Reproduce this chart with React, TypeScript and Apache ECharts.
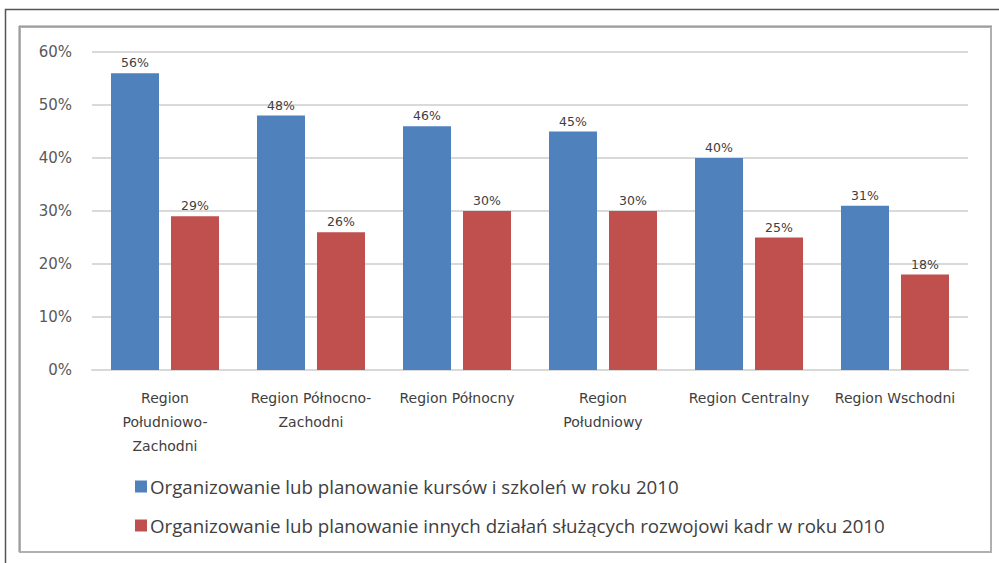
import React, { useEffect, useRef } from "react";
import * as echarts from "echarts";

// Regions (category axis)
const regions: string[] = [
  "Region\nPołudniowo-\nZachodni",
  "Region Północno-\nZachodni",
  "Region Północny",
  "Region\nPołudniowy",
  "Region Centralny",
  "Region Wschodni",
];

// Series names
const seriesNames: string[] = [
  "Organizowanie lub planowanie kursów i szkoleń w roku 2010",
  "Organizowanie lub planowanie innych działań służących rozwojowi kadr w roku 2010",
];

// Shares of companies, in percent
const coursesValues: number[] = [56, 48, 46, 45, 40, 31];
const otherActivitiesValues: number[] = [29, 26, 30, 30, 25, 18];

// Y axis range and step
const yMin = 0;
const yMax = 60;
const yStep = 10;

const AXIS_FONT = "'DejaVu Sans', Verdana, sans-serif";
const LEGEND_FONT = "'Open Sans', 'Liberation Sans', sans-serif";

export default function App() {
  const ref = useRef<HTMLDivElement>(null);

  useEffect(() => {
    document.body.style.margin = "0";
    if (!ref.current) return;
    const chart = echarts.init(ref.current, undefined, { renderer: "svg" });

    const labelStyle = {
      show: true,
      position: "top" as const,
      distance: 4,
      color: "#404040",
      fontSize: 12.5,
      fontFamily: AXIS_FONT,
      formatter: (p: any) => `${p.value}%`,
    };

    chart.setOption({
      animation: false,
      backgroundColor: "#ffffff",
      graphic: [
        // outer frame (top and left edges)
        {
          type: "polyline",
          shape: { points: [[5.5, 563], [5.5, 9.5], [999, 9.5]] },
          style: { stroke: "#555555", lineWidth: 1.5, fill: "none" },
          silent: true,
        },
        // chart area frame
        {
          type: "rect",
          shape: { x: 20, y: 27, width: 971, height: 525 },
          style: { stroke: "#b0b0b0", lineWidth: 2, fill: "none" },
          silent: true,
        },
        {
          type: "polyline",
          shape: { points: [[19, 552], [19, 26], [992, 26]] },
          style: { stroke: "#8c8c8c", lineWidth: 1, fill: "none" },
          silent: true,
        },
      ],
      grid: { left: 92, right: 31, top: 52, bottom: 193, containLabel: false },
      legend: {
        orient: "vertical",
        left: 135,
        top: 477,
        padding: 0,
        itemWidth: 12,
        itemHeight: 12,
        itemGap: 20,
        icon: "rect",
        textStyle: {
          fontSize: 18.7,
          color: "#404040",
          fontFamily: LEGEND_FONT,
          padding: [0, 0, 0, -2],
        },
        data: seriesNames,
      },
      xAxis: {
        type: "category",
        data: regions,
        axisTick: { show: false },
        axisLine: { lineStyle: { color: "#d9d9d9", width: 2 } },
        axisLabel: {
          interval: 0,
          margin: 16,
          fontSize: 14,
          lineHeight: 24,
          color: "#404040",
          fontFamily: AXIS_FONT,
        },
      },
      yAxis: {
        type: "value",
        min: yMin,
        max: yMax,
        interval: yStep,
        axisLine: { show: false },
        axisTick: { show: false },
        axisLabel: {
          formatter: "{value}%",
          fontSize: 15,
          color: "#595959",
          margin: 20,
          fontFamily: AXIS_FONT,
        },
        splitLine: { lineStyle: { color: "#d9d9d9", width: 2 } },
      },
      series: [
        {
          name: seriesNames[0],
          type: "bar",
          data: coursesValues,
          barWidth: 48,
          barGap: "25%",
          itemStyle: { color: "#4f81bd" },
          label: labelStyle,
        },
        {
          name: seriesNames[1],
          type: "bar",
          data: otherActivitiesValues,
          barWidth: 48,
          barGap: "25%",
          itemStyle: { color: "#c0504d" },
          label: labelStyle,
        },
      ],
    });

    return () => chart.dispose();
  }, []);

  return (
    <div
      ref={ref}
      style={{ position: "absolute", left: 0, top: 0, width: 999, height: 563 }}
    />
  );
}
